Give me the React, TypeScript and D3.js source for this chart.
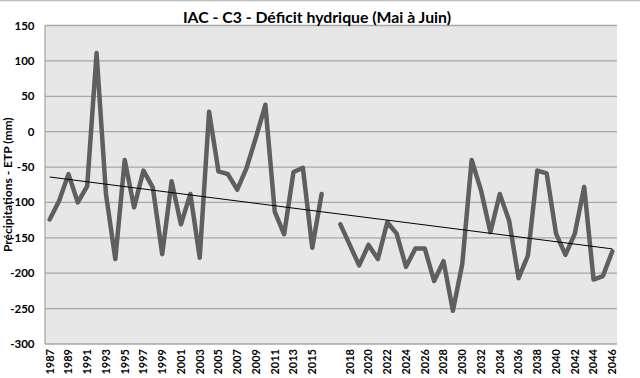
import React from "react";
import * as d3 from "d3";

const categories: string[] = [
  "1987","1988","1989","1990","1991","1992","1993","1994","1995","1996",
  "1997","1998","1999","2000","2001","2002","2003","2004","2005","2006",
  "2007","2008","2009","2010","2011","2012","2013","2014","2015","2016",
  "",
  "2017","2018","2019","2020","2021","2022","2023","2024","2025","2026",
  "2027","2028","2029","2030","2031","2032","2033","2034","2035","2036",
  "2037","2038","2039","2040","2041","2042","2043","2044","2045","2046",
];

const values: (number | null)[] = [
  -124, -98, -60, -100, -77, 111, -88, -180, -40, -107,
  -55, -79, -173, -70, -131, -88, -178, 28, -56, -60,
  -82, -51, -8, 38, -113, -145, -57, -51, -164, -88,
  null,
  -131, -160, -189, -160, -180, -128, -144, -191, -165, -165,
  -211, -183, -253, -187, -40, -83, -142, -88, -126, -207,
  -175, -55, -59, -144, -174, -144, -78, -209, -204, -169,
];

const yTicks: number[] = [150, 100, 50, 0, -50, -100, -150, -200, -250, -300];

const title = "IAC - C3 - Déficit hydrique (Mai à Juin)";
const yTitle = "Précipitations - ETP (mm)";

export default function App() {
  const W = 640, H = 378;
  const left = 45, right = 617, top = 25.5, bottom = 344;
  const font = "Lato, 'Open Sans', sans-serif";

  const x = d3
    .scaleBand<number>()
    .domain(categories.map((_, i) => i))
    .range([left, right])
    .paddingInner(0)
    .paddingOuter(0);
  const cx = (i: number) => (x(i) as number) + x.bandwidth() / 2;
  const y = d3.scaleLinear().domain([-300, 150]).range([bottom, top]);

  const pts = values.map((v, i) => ({ i, v }));
  const line = d3
    .line<{ i: number; v: number | null }>()
    .defined((d) => d.v !== null)
    .x((d) => cx(d.i))
    .y((d) => y(d.v as number));

  // linear trend (least squares on category position)
  const valid = pts.filter((p) => p.v !== null) as { i: number; v: number }[];
  const mx = d3.mean(valid, (p) => p.i) as number;
  const my = d3.mean(valid, (p) => p.v) as number;
  const sxy = d3.sum(valid, (p) => (p.i - mx) * (p.v - my));
  const sxx = d3.sum(valid, (p) => (p.i - mx) ** 2);
  const slope = sxy / sxx;
  const icpt = my - slope * mx;
  const i0 = 0, i1 = categories.length - 1;

  return (
    <svg width={W} height={H} style={{ position: "absolute", left: 0, top: 0, background: "#fff" }}>
      <line x1={0} x2={W} y1={0.5} y2={0.5} stroke="#bfbfbf" strokeWidth={1.5} />
      <rect x={left} y={top} width={right - left} height={bottom - top} fill="#e7e7e7" />
      {yTicks.map((t) => (
        <g key={t}>
          {t !== -300 && (
            <line x1={left} x2={right} y1={y(t)} y2={y(t)} stroke="#a8a8a8" strokeWidth={1.3} />
          )}
          <text
            x={34.5}
            y={y(t)}
            dy="0.35em"
            textAnchor="end"
            fontFamily={font}
            fontWeight={700}
            fontSize={11.5}
            fill="#000"
          >
            {t}
          </text>
        </g>
      ))}
      <line x1={left} x2={left} y1={top} y2={bottom} stroke="#a8a8a8" strokeWidth={1.3} />
      <line x1={left} x2={right} y1={bottom} y2={bottom} stroke="#a8a8a8" strokeWidth={1.3} />
      <path
        d={line(pts) || ""}
        fill="none"
        stroke="#5f5f5f"
        strokeWidth={4.5}
        strokeLinejoin="round"
        strokeLinecap="round"
      />
      <line
        x1={cx(i0)}
        x2={cx(i1)}
        y1={y(icpt + slope * i0)}
        y2={y(icpt + slope * i1)}
        stroke="#000"
        strokeWidth={1}
      />
      {categories.map((c, i) =>
        i % 2 === 0 && c ? (
          <text
            key={i}
            transform={`translate(${cx(i)},${bottom + 5}) rotate(-90)`}
            dy="0.35em"
            textAnchor="end"
            fontFamily={font}
            fontWeight={700}
            fontSize={11}
            fill="#000"
          >
            {c}
          </text>
        ) : null
      )}
      <text
        x={317}
        y={23}
        textAnchor="middle"
        fontFamily={font}
        fontWeight={700}
        fontSize={15.8}
        fill="#000"
      >
        {title}
      </text>
      <text
        transform={`translate(12,${(top + bottom) / 2}) rotate(-90)`}
        textAnchor="middle"
        fontFamily={font}
        fontWeight={700}
        fontSize={12}
        fill="#000"
      >
        {yTitle}
      </text>
    </svg>
  );
}
